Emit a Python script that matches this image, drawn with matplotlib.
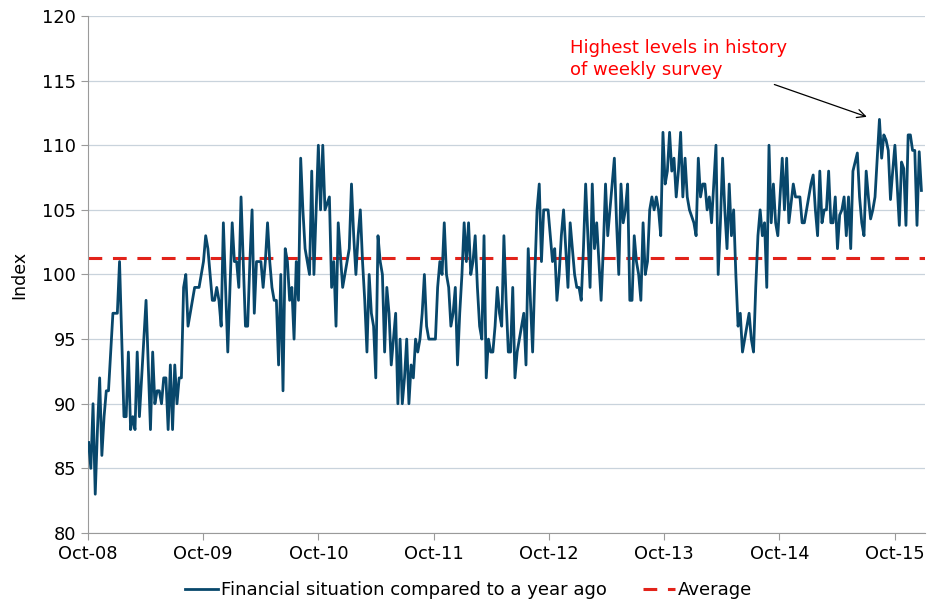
import matplotlib.pyplot as plt
import matplotlib.dates as mdates
import numpy as np
import pandas as pd

# weekly index readings, Oct 2008 onwards
values = [
    87, 85, 90, 83, 88, 92, 86, 89, 91, 91,
    94, 97, 97, 97, 101, 95, 89, 89, 94, 88,
    89, 88, 94, 89, 92, 95, 98, 93, 88, 94,
    90, 91, 91, 90, 92, 92, 88, 93, 88, 93,
    90, 92, 92, 99, 100, 96, 97, 98, 99, 99,
    99, 100, 101, 103, 102, 100, 98, 98, 99, 98,
    96, 104, 99, 94, 99, 104, 101, 101, 99, 106,
    101, 96, 96, 101, 105, 97, 101, 101, 101, 99,
    101, 104, 101, 99, 98, 98, 93, 100, 91, 102,
    101, 98, 99, 95, 101, 98, 109, 105, 102, 101,
    100, 108, 100, 105, 110, 105, 110, 105, 105.5, 106,
    99, 101, 96, 104, 101.5, 99, 100, 101, 102, 107,
    103, 100, 103, 105, 101, 98, 94, 100, 97, 96,
    92, 103, 101, 100, 94, 99, 97, 93, 95, 97,
    90, 95, 90, 92, 95, 90, 93, 92, 95, 94,
    95, 97, 100, 96, 95, 95, 95, 95, 99, 101,
    100, 104, 100, 99, 96, 97, 99, 93, 97, 100,
    104, 101, 104, 100, 101, 103, 99, 96, 95, 103,
    92, 95, 94, 94, 96, 99, 97, 96, 103, 98,
    94, 94, 99, 92, 94, 95, 96, 97, 93, 102,
    98, 94, 100, 105, 107, 101, 105, 105, 105, 103,
    101, 102, 98, 100, 103, 105, 102, 99, 104, 102,
    100, 99, 99, 98, 102, 107, 103, 99, 107, 102,
    104, 101, 98, 102, 107, 103, 105, 107, 109, 104,
    100, 107, 104, 105, 107, 98, 98, 103, 101, 100,
    98, 104, 100, 101, 105, 106, 105, 106, 105, 103,
    111, 107, 108, 111, 108, 109, 106, 108, 111, 106,
    109, 106, 105, 104.5, 104, 103, 109, 106, 107, 107,
    105, 106, 104, 107, 110, 100, 104, 109, 105, 102,
    107, 103, 105, 100, 96, 97, 94, 95, 96, 97,
    95, 94, 99, 103, 105, 103, 104, 99, 110, 104,
    107, 104, 103, 106, 109, 105, 109, 104, 105.5, 107,
    106, 106, 106, 104, 104, 105, 106, 107, 107.7, 105,
    103, 108, 104, 105, 105, 108, 104, 104, 106, 102,
    104.6, 105, 106, 103, 106, 102, 108, 108.7, 109.4, 106,
    104, 103, 108, 106, 104.3, 105, 106, 109, 112, 109,
    110.8, 110.4, 109.6, 105.8, 108, 110, 107, 103.8, 108.7, 108.2,
    103.8, 110.8, 110.8, 109.6, 109.6, 103.8, 109.5, 106.5,
]
average = 101.3
tick_years = list(range(2008, 2016))
series_label = "Financial situation compared to a year ago"
avg_label = "Average"
note = "Highest levels in history\nof weekly survey"

dates = pd.date_range("2008-10-03", periods=len(values), freq="7D")
df = pd.DataFrame({"date": dates, "index": values})

fig = plt.figure(figsize=(9.33, 6.06), dpi=100)
ax = fig.add_axes([0.0943, 0.1205, 0.897, 0.8531])

ax.plot(df["date"], df["index"], color="#08476b", lw=2.0, label=series_label, zorder=3)
ax.axhline(average, color="#e2231a", lw=2.2, dashes=(4.5, 3.5), label=avg_label, zorder=2)

ax.set_xlim(pd.Timestamp("2008-10-01"), pd.Timestamp("2016-01-05"))
ax.set_ylim(80, 120)
ax.set_yticks(np.arange(80, 121, 5))
ax.set_xticks([pd.Timestamp(f"{y}-10-01") for y in tick_years])
ax.xaxis.set_major_formatter(mdates.DateFormatter("%b-%y"))

ax.grid(axis="y", color="#c9d3dc", lw=0.9)
ax.set_axisbelow(True)
for s in ["top", "right"]:
    ax.spines[s].set_visible(False)
for s in ["left", "bottom"]:
    ax.spines[s].set_color("#9a9a9a")
ax.tick_params(axis="both", labelsize=12.8, colors="#9a9a9a", labelcolor="black", length=5)
ax.tick_params(axis="x", pad=4)
ax.set_ylabel("Index", fontsize=12.5, labelpad=10)

# note + arrow to the peak
ax.text(pd.Timestamp("2012-12-06"), 118.2, note, color="#ff0000", fontsize=13,
        ha="left", va="top", linespacing=1.25)
ax.annotate("", xy=(pd.Timestamp("2015-07-05"), 112.2),
            xytext=(pd.Timestamp("2014-09-15"), 114.7),
            arrowprops=dict(arrowstyle="->", color="black", lw=0.9,
                            shrinkA=0, shrinkB=0, mutation_scale=15))

ax.legend(loc="center", bbox_to_anchor=(0.455, -0.11), ncol=2, frameon=False,
          fontsize=13, handlelength=1.8, columnspacing=2.0, handletextpad=0.15)

fig.savefig("out.png", dpi=100)
